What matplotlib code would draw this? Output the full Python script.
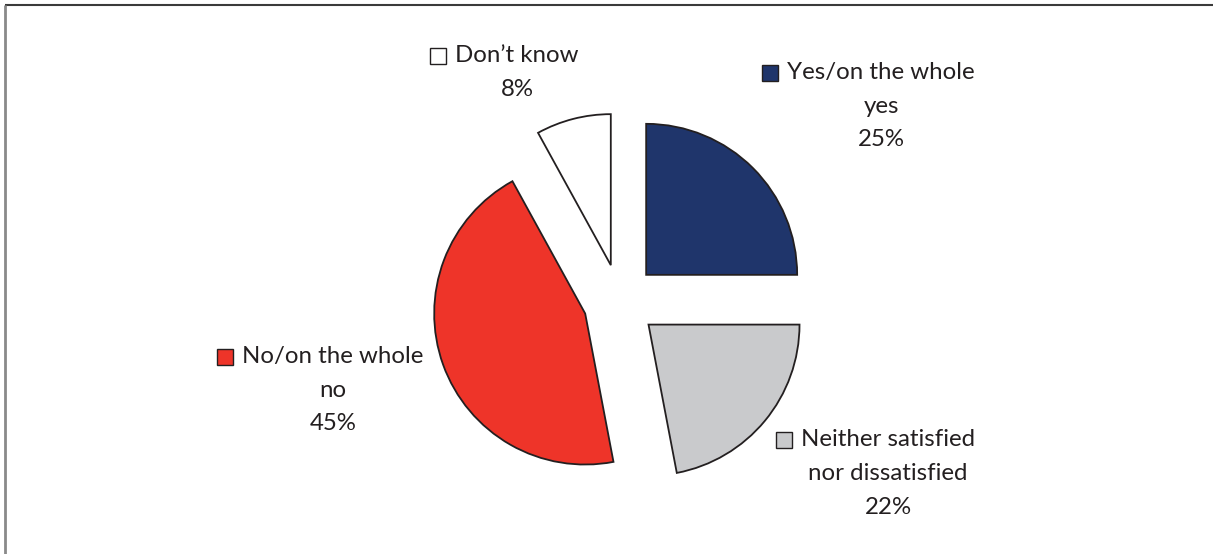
import matplotlib.pyplot as plt
from matplotlib.patches import Rectangle

# survey answers, clockwise from 12 o'clock
labels = ['Yes/on the whole\nyes', 'Neither satisfied\nnor dissatisfied',
          'No/on the whole\nno', 'Don\u2019t know']
shares = [25, 22, 45, 8]
colors = ['#1f356b', '#c9cacc', '#ee3429', '#ffffff']

TXT = '#231f20'
plt.rcParams['font.family'] = ['Lato', 'DejaVu Sans']

W, H = 1213, 554
fig = plt.figure(figsize=(W / 100, H / 100), dpi=100)
ax = fig.add_axes([0, 0, 1, 1])

# explode is in data units here (pixels), radius too
wedges, _ = ax.pie(shares, colors=colors, startangle=90, counterclock=False,
                   explode=[37] * 4, radius=151, center=(620, H - 301),
                   wedgeprops=dict(edgecolor='#231f20', linewidth=1.3))
ax.set_xlim(0, W)
ax.set_ylim(0, H)
ax.set_aspect('equal')
ax.axis('off')

# frame lines (top + left only visible)
ax.plot([5, W], [H - 5, H - 5], color='#3a3a3a', lw=1.5, solid_capstyle='butt')
ax.plot([5, 5], [0, H - 5], color='#8a8a8a', lw=2, solid_capstyle='butt')

# label anchor = centre of text block (x), first line (y), px from top
label_pos = [(881, 73), (888, 440), (333, 357), (517, 56)]

fig.canvas.draw()
r = fig.canvas.get_renderer()
for lab, s, c, (x, y) in zip(labels, shares, colors, label_pos):
    lines = lab.split('\n') + ['%d%%' % s]
    for i, ln in enumerate(lines):
        t = ax.text(x, H - y - i * 33.5, ln, ha='center', va='center',
                    fontsize=17.3, color=TXT)
        if i == 0:
            bb = t.get_window_extent(r)
            ax.add_patch(Rectangle((bb.x0 - 25, H - y - 8), 16, 16, facecolor=c,
                                   edgecolor='#231f20', lw=1.0))

fig.savefig('out.png', dpi=100)
